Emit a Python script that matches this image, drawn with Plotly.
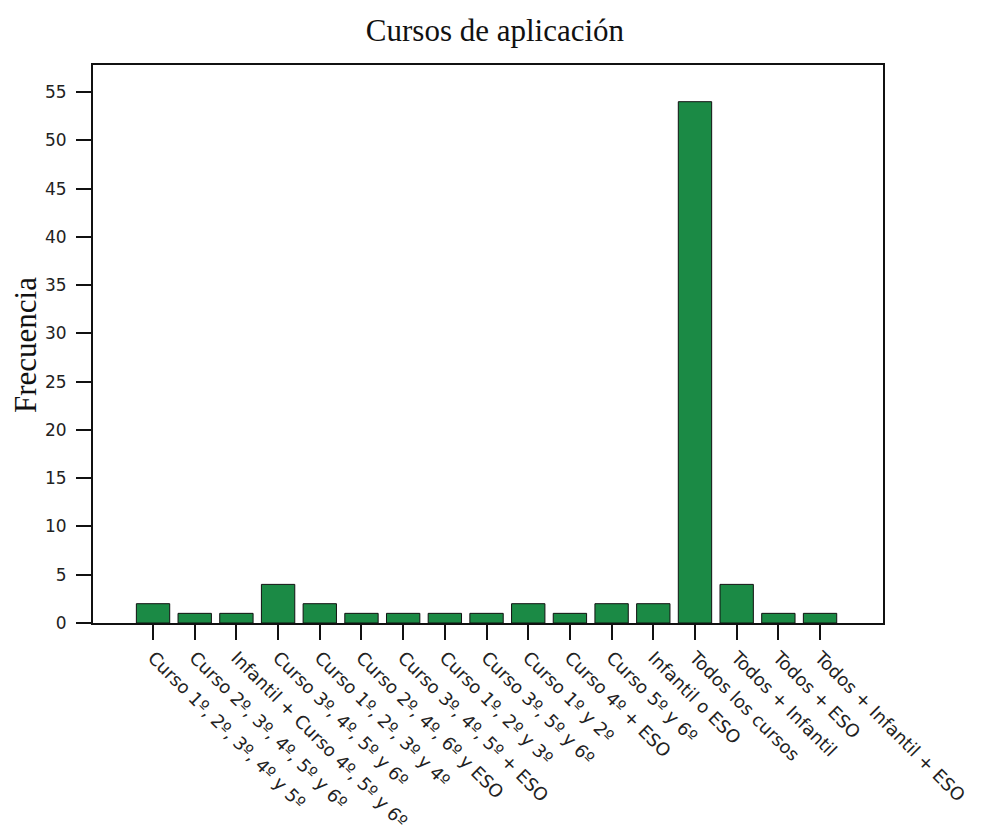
import plotly.graph_objects as go

categorias = [
    "Curso 1º, 2º, 3º, 4º y 5º",
    "Curso 2º, 3º, 4º, 5º y 6º",
    "Infantil + Curso 4º, 5º y 6º",
    "Curso 3º, 4º, 5º y 6º",
    "Curso 1º, 2º, 3º y 4º",
    "Curso 2º, 4º, 6º y ESO",
    "Curso 3º, 4º, 5º + ESO",
    "Curso 1º, 2º y 3º",
    "Curso 3º, 5º y 6º",
    "Curso 1º y 2º",
    "Curso 4º + ESO",
    "Curso 5º y 6º",
    "Infantil o ESO",
    "Todos los cursos",
    "Todos + Infantil",
    "Todos + ESO",
    "Todos + Infantil + ESO",
]
frecuencias = [2, 1, 1, 4, 2, 1, 1, 1, 1, 2, 1, 2, 2, 54, 4, 1, 1]
y_ticks = [0, 5, 10, 15, 20, 25, 30, 35, 40, 45, 50, 55]

GREEN = "#1b8a45"

# the page has an 8px body margin, so the figure is drawn 8px smaller
W, H = 982, 824

fig = go.Figure()
fig.add_trace(
    go.Bar(
        x=list(range(len(categorias))),
        y=frecuencias,
        marker=dict(color=GREEN, line=dict(color="#111111", width=1)),
        width=0.8,
    )
)

fig.update_layout(
    width=W,
    height=H,
    margin=dict(l=85, r=107, t=57, b=209),
    paper_bgcolor="white",
    plot_bgcolor="white",
    showlegend=False,
    title=dict(
        text="Cursos de aplicación",
        font=dict(family="Liberation Serif", size=31, color="#111111"),
        x=(495 - 8) / W, xanchor="center",
        y=1 - 22 / H, yanchor="middle", yref="container",
    ),
)

fig.update_xaxes(
    range=[-1.44, 17.51],
    tickmode="array",
    tickvals=list(range(len(categorias))),
    ticktext=categorias,
    tickangle=45,
    ticks="outside",
    ticklen=15,
    tickwidth=2,
    tickcolor="#111111",
    tickfont=dict(family="DejaVu Sans", size=18, color="#222222"),
    showline=True,
    linecolor="#111111",
    linewidth=2,
    mirror=True,
    showgrid=False,
    zeroline=False,
    automargin=False,
)

fig.update_yaxes(
    range=[0, 57.8],
    tickmode="array",
    tickvals=y_ticks,
    ticks="outside",
    ticklen=15,
    tickwidth=2,
    tickcolor="#111111",
    ticklabelstandoff=6,
    tickfont=dict(family="DejaVu Sans", size=17, color="#222222"),
    showline=True,
    linecolor="#111111",
    linewidth=2,
    mirror=True,
    showgrid=False,
    zeroline=False,
    automargin=False,
)

fig.add_annotation(
    text="Frecuencia",
    textangle=-90,
    xref="paper", yref="paper",
    x=(25 - 93) / 790, y=(623 - 345) / 558,
    xanchor="center", yanchor="middle",
    showarrow=False,
    font=dict(family="Liberation Serif", size=31, color="#111111"),
)

fig.write_html("out.html")
